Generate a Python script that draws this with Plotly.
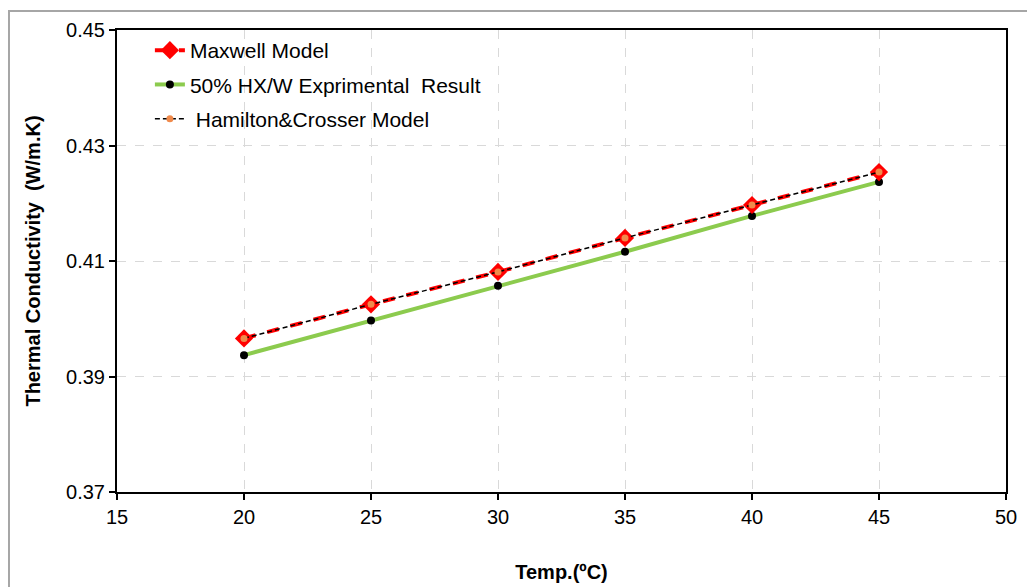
import plotly.graph_objects as go

temps = [20, 25, 30, 35, 40, 45]
maxwell = [0.3966, 0.4025, 0.4081, 0.4140, 0.4197, 0.4254]
experimental = [0.3937, 0.3997, 0.4057, 0.4116, 0.4178, 0.4237]
hamilton = [0.3966, 0.4025, 0.4081, 0.4140, 0.4197, 0.4254]
y_ticks = [0.37, 0.39, 0.41, 0.43, 0.45]
x_ticks = [15, 20, 25, 30, 35, 40, 45, 50]

fig = go.Figure()
fig.add_trace(go.Scatter(
    x=temps, y=experimental, name="50% HX/W Exprimental  Result", mode="lines+markers",
    line=dict(color="#8CCB4E", width=4), legendgroup="b",
    marker=dict(color="black", size=8, symbol="circle"), legendrank=2))
fig.add_trace(go.Scatter(
    x=temps, y=maxwell, name="Maxwell Model", mode="lines+markers",
    line=dict(color="#FF0000", width=4, dash="dash"), legendgroup="a",
    marker=dict(color="#FF0000", size=14, symbol="diamond"), legendrank=1))
fig.add_trace(go.Scatter(
    x=temps, y=hamilton, name=" Hamilton&Crosser Model", mode="lines+markers",
    line=dict(color="black", width=1.5, dash="5px,3px"), legendgroup="c",
    marker=dict(color="#F08A4B", size=7, symbol="circle"), legendrank=3))

fig.update_layout(
    width=1027, height=579,
    margin=dict(l=109, r=29, t=22, b=95),
    paper_bgcolor="white", plot_bgcolor="white",
    font=dict(family="Liberation Sans, Arial, sans-serif", size=20, color="black"),
    showlegend=True,
    legend=dict(x=0.037, y=1.0, xanchor="left", yanchor="top", bgcolor="rgba(0,0,0,0)",
                font=dict(size=21), tracegroupgap=4),
    xaxis=dict(range=[15, 50], tickvals=x_ticks, showline=True, linecolor="black", linewidth=2,
               ticks="outside", ticklen=6, tickwidth=2, tickcolor="black",
               showgrid=True, gridcolor="#D9D9D9", griddash="dash", gridwidth=1,
               zeroline=False, mirror=True, automargin=False,
               tickfont=dict(size=20),
               title=dict(text="<b>Temp.(ºC)</b>", font=dict(size=20), standoff=38)),
    yaxis=dict(range=[0.37, 0.45], tickvals=y_ticks, tickformat=".2f", showline=True, linecolor="black",
               linewidth=2, ticks="outside", ticklen=6, tickwidth=2, tickcolor="black",
               showgrid=True, gridcolor="#D9D9D9", griddash="dash", gridwidth=1, zeroline=False,
               mirror=True, automargin=False, tickfont=dict(size=20),
               title=dict(text="<b>Thermal Conductivity  (W/m.K)</b>", font=dict(size=20), standoff=20)),
    shapes=[dict(type="rect", xref="paper", yref="paper", x0=-0.1215, x1=1.1, y0=-0.3, y1=1.041,
                 line=dict(color="#A6A6A6", width=2), fillcolor="rgba(0,0,0,0)", layer="below")],
)

fig.write_html("out.html")
